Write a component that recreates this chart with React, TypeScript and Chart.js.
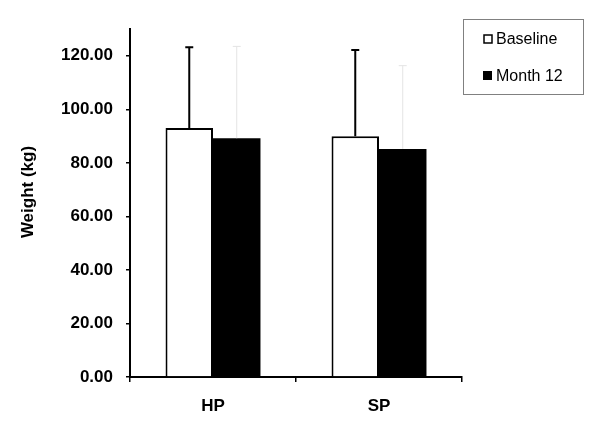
import React, { useEffect, useRef } from "react";
import { Chart, registerables } from "chart.js";

Chart.register(...registerables);

const categories = ["HP", "SP"];
const seriesNames = ["Baseline", "Month 12"];
const baseline = [93.0, 89.9];
const month12 = [89.2, 85.2];
const baselineErr = [30.2, 32.3];
const month12Err = [34.3, 31.1];
const yTicks = [0, 20, 40, 60, 80, 100, 120];
const yMax = 130;
const yTitle = "Weight (kg)";

const FONT = "'Liberation Sans', Arial, Helvetica, sans-serif";

const errorBarPlugin = {
  id: "errorBars",
  afterDatasetsDraw(chart: any) {
    const ctx = chart.ctx;
    const yScale = chart.scales.y;
    const errs = [baselineErr, month12Err];
    const styles = [
      { color: "#000000", width: 2 },
      { color: "#e4e4e4", width: 1 },
    ];
    chart.data.datasets.forEach((ds: any, i: number) => {
      const meta = chart.getDatasetMeta(i);
      meta.data.forEach((bar: any, j: number) => {
        const v = ds.data[j] + errs[i][j];
        const yTop = yScale.getPixelForValue(v);
        ctx.save();
        ctx.strokeStyle = styles[i].color;
        ctx.lineWidth = styles[i].width;
        ctx.beginPath();
        ctx.moveTo(bar.x, bar.y);
        ctx.lineTo(bar.x, yTop);
        ctx.moveTo(bar.x - 4, yTop);
        ctx.lineTo(bar.x + 4, yTop);
        ctx.stroke();
        ctx.restore();
      });
    });
  },
};

const decorPlugin = {
  id: "decor",
  afterDraw(chart: any) {
    const ctx = chart.ctx;
    ctx.save();
    // y axis title
    ctx.translate(28, 192);
    ctx.rotate(-Math.PI / 2);
    ctx.font = `bold 17px ${FONT}`;
    ctx.fillStyle = "#000";
    ctx.textAlign = "center";
    ctx.textBaseline = "middle";
    ctx.fillText(yTitle, 0, 0);
    ctx.restore();

    // legend
    ctx.save();
    ctx.strokeStyle = "#808080";
    ctx.lineWidth = 1;
    ctx.strokeRect(463.5, 19.5, 120, 75);
    ctx.font = `16px ${FONT}`;
    ctx.fillStyle = "#000";
    ctx.textAlign = "left";
    ctx.textBaseline = "middle";
    const rows = [39, 76];
    seriesNames.forEach((name, i) => {
      const cy = rows[i];
      if (i === 0) {
        ctx.fillStyle = "#fff";
        ctx.fillRect(484, cy - 4, 8, 8);
        ctx.strokeStyle = "#000";
        ctx.lineWidth = 1.5;
        ctx.strokeRect(484, cy - 4, 8, 8);
      } else {
        ctx.fillStyle = "#000";
        ctx.fillRect(483, cy - 5, 9, 9);
      }
      ctx.fillStyle = "#000";
      ctx.fillText(name, 496, cy + 1);
    });
    ctx.restore();
  },
};

export default function App() {
  const ref = useRef<HTMLCanvasElement | null>(null);
  useEffect(() => {
    if (!ref.current) return;
    const chart = new Chart(ref.current, {
      type: "bar",
      data: {
        labels: categories,
        datasets: [
          {
            label: seriesNames[0],
            data: baseline,
            backgroundColor: "#ffffff",
            borderColor: "#000000",
            borderWidth: 2,
            categoryPercentage: 0.572,
            barPercentage: 1.0,
          },
          {
            label: seriesNames[1],
            data: month12,
            backgroundColor: "#000000",
            borderColor: "#000000",
            borderWidth: 0,
            categoryPercentage: 0.572,
            barPercentage: 1.0,
          },
        ],
      },
      options: {
        responsive: false,
        animation: false,
        layout: { padding: { left: 0, right: 138, top: 29, bottom: 0 } },
        plugins: {
          legend: { display: false },
          tooltip: { enabled: false },
        },
        scales: {
          x: {
            grid: {
              display: true,
              drawOnChartArea: false,
              drawTicks: true,
              tickLength: 5,
              color: "#000",
              lineWidth: 1.5,
            },
            border: { display: true, color: "#000", width: 2 },
            ticks: {
              color: "#000",
              font: { family: FONT, size: 17, weight: "bold" },
              padding: 14,
            },
            afterFit: (s: any) => {
              s.height = 51;
            },
          },
          y: {
            min: 0,
            max: yMax,
            afterBuildTicks: (axis: any) => {
              axis.ticks = yTicks.map((v) => ({ value: v }));
            },
            grid: {
              display: true,
              drawOnChartArea: false,
              drawTicks: true,
              tickLength: 4,
              color: "#000",
              lineWidth: 1.5,
            },
            border: { display: true, color: "#000", width: 2 },
            ticks: {
              color: "#000",
              font: { family: FONT, size: 17, weight: "bold" },
              padding: 13,
              callback: (v: any) => Number(v).toFixed(2),
            },
            afterFit: (s: any) => {
              s.width = 130;
            },
          },
        },
      },
      plugins: [errorBarPlugin, decorPlugin],
    });
    return () => chart.destroy();
  }, []);
  return (
    <canvas
      ref={ref}
      width={600}
      height={428}
      style={{ position: "absolute", left: 0, top: 0, background: "#fff" }}
    />
  );
}
